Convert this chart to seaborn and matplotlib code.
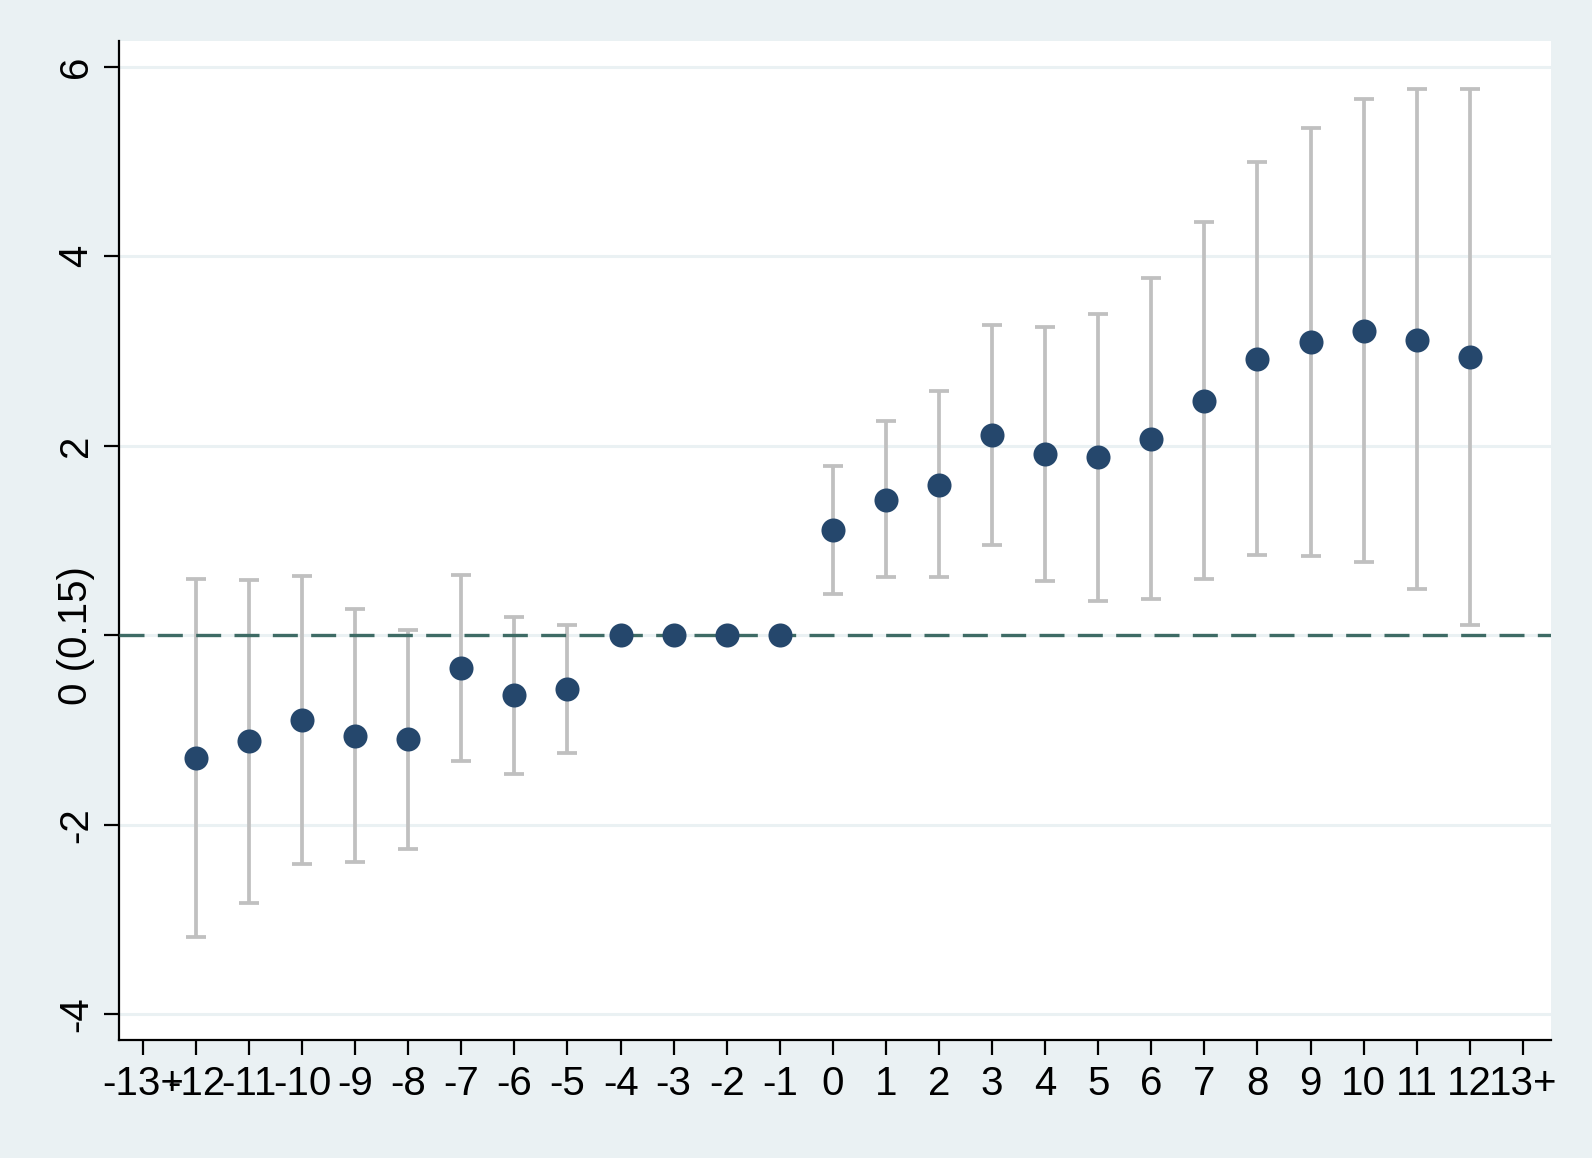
import numpy as np
import pandas as pd
import matplotlib
matplotlib.use("Agg")
import matplotlib.pyplot as plt
import seaborn as sns

# ---- data ----
periods = [-12, -11, -10, -9, -8, -7, -6, -5, -4, -3, -2, -1,
           0, 1, 2, 3, 4, 5, 6, 7, 8, 9, 10, 11, 12]
coef = [-1.30, -1.12, -0.89, -1.06, -1.09, -0.35, -0.63, -0.57, 0.0, 0.0, 0.0, 0.0,
        1.11, 1.43, 1.59, 2.11, 1.91, 1.88, 2.07, 2.47, 2.92, 3.09, 3.21, 3.12, 2.94]
ci_low = [-3.18, -2.82, -2.41, -2.39, -2.25, -1.33, -1.46, -1.24, np.nan, np.nan, np.nan, np.nan,
          0.44, 0.61, 0.61, 0.95, 0.57, 0.36, 0.38, 0.59, 0.85, 0.84, 0.77, 0.49, 0.11]
ci_high = [0.59, 0.58, 0.63, 0.28, 0.06, 0.64, 0.19, 0.11, np.nan, np.nan, np.nan, np.nan,
           1.79, 2.26, 2.58, 3.27, 3.25, 3.39, 3.77, 4.36, 4.99, 5.35, 5.66, 5.76, 5.76]
xtick_pos = list(range(-13, 14))
xtick_labels = ["-13+"] + [str(v) for v in range(-12, 13)] + ["13+"]
ytick_pos = [-4, -2, 0, 2, 4, 6]
ytick_labels = ["-4", "-2", "0 (0.15)", "2", "4", "6"]

df = pd.DataFrame({"period": periods, "coef": coef, "lo": ci_low, "hi": ci_high})

BG = "#EAF1F3"
sns.set_theme(style="white")
plt.rcParams["font.family"] = ["Liberation Sans", "DejaVu Sans"]

fig = plt.figure(figsize=(15.92, 11.58), dpi=100, facecolor=BG)
ax = fig.add_axes([119 / 1592, 1 - 1040 / 1158, (1551 - 119) / 1592, (1040 - 41) / 1158])
ax.set_facecolor("white")

# gridlines
for yv in ytick_pos:
    ax.axhline(yv, color=BG, lw=2.2, zorder=0)

# confidence intervals
ci = df.dropna()
ax.errorbar(ci["period"], ci["coef"],
            yerr=[ci["coef"] - ci["lo"], ci["hi"] - ci["coef"]],
            fmt="none", ecolor="#C0C0C0", elinewidth=2.7, capsize=7.5, capthick=2.7, zorder=2)

# reference line
ax.axhline(0, color="#3E6B65", lw=2.4, ls=(0, (7.5, 4)), zorder=3)

# point estimates
sns.scatterplot(data=df, x="period", y="coef", ax=ax, s=300, color="#25476C",
                linewidth=0, zorder=4, legend=False)

ax.set_xlim(-13.45, 13.53)
ax.set_ylim(-4.27, 6.27)
ax.set_xticks(xtick_pos)
ax.set_xticklabels(xtick_labels)
ax.set_yticks(ytick_pos)
ax.set_yticklabels(ytick_labels, rotation=90, va="center")
ax.set_xlabel("")
ax.set_ylabel("")

for side in ["top", "right"]:
    ax.spines[side].set_visible(False)
for side in ["left", "bottom"]:
    ax.spines[side].set_color("black")
    ax.spines[side].set_linewidth(1.6)

ax.tick_params(axis="both", which="major", direction="out", length=11, width=1.6,
               color="black", labelsize=29, labelcolor="black")
ax.tick_params(axis="x", pad=7, bottom=True)
ax.tick_params(axis="y", pad=6, left=True)

fig.savefig("out.png", dpi=100, facecolor=BG)
